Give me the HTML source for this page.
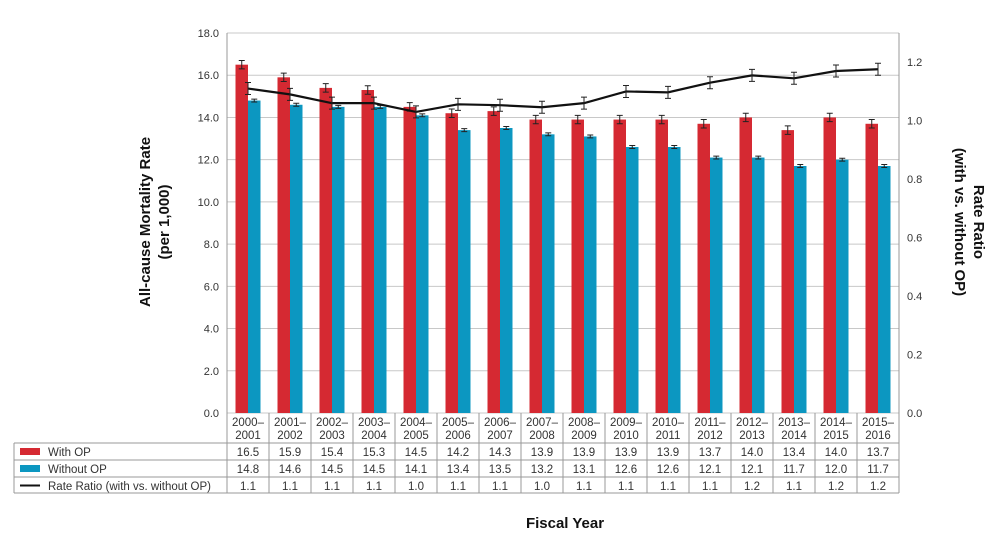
<!DOCTYPE html>
<html><head><meta charset="utf-8"><style>
body{margin:0;background:#fff;width:1000px;height:552px;overflow:hidden;font-family:"Liberation Sans",sans-serif}
svg text{font-family:"Liberation Sans",sans-serif;fill:#333}
</style></head><body>
<svg id="c" width="1000" height="552"></svg>
<script>
const categories=["2000–2001","2001–2002","2002–2003","2003–2004","2004–2005","2005–2006","2006–2007","2007–2008","2008–2009","2009–2010","2010–2011","2011–2012","2012–2013","2013–2014","2014–2015","2015–2016"];
const withOP=[16.5,15.9,15.4,15.3,14.5,14.2,14.3,13.9,13.9,13.9,13.9,13.7,14.0,13.4,14.0,13.7];
const withoutOP=[14.8,14.6,14.5,14.5,14.1,13.4,13.5,13.2,13.1,12.6,12.6,12.1,12.1,11.7,12.0,11.7];
const ratio=[1.11,1.09,1.06,1.06,1.03,1.056,1.053,1.046,1.06,1.10,1.097,1.13,1.155,1.145,1.17,1.176];
const ratioLabels=["1.1","1.1","1.1","1.1","1.0","1.1","1.1","1.0","1.1","1.1","1.1","1.1","1.2","1.1","1.2","1.2"];
const leftTicks=[0,2,4,6,8,10,12,14,16,18];
const rightTicks=[0,0.2,0.4,0.6,0.8,1.0,1.2];
const svg=document.getElementById('c');const NS='http://www.w3.org/2000/svg';
function el(t,a,txt){const e=document.createElementNS(NS,t);for(const k in a)e.setAttribute(k,a[k]);if(txt!==undefined)e.textContent=txt;svg.appendChild(e);return e;}
const X0=227,X1=899,Y0=413,Y1=33,cw=(X1-X0)/categories.length;
const yL=v=>Y0-(v/18)*(Y0-Y1);
const yR=v=>Y0-(v/1.3)*(Y0-Y1);
const xc=i=>X0+cw*(i+0.5);
leftTicks.forEach(v=>{
 let g=el('line',{x1:X0,x2:X1,y1:yL(v),y2:yL(v),stroke:'#c8c8c8','stroke-width':1});
 
 let t=el('text',{x:X0-8,y:yL(v)+4,'text-anchor':'end','font-size':11},v.toFixed(1));
 
});
rightTicks.forEach(v=>{
 let t=el('text',{x:X1+8,y:yR(v)+4,'font-size':11},v.toFixed(1));
 
});
let ax=el('line',{x1:X0,x2:X0,y1:Y1,y2:Y0,stroke:'#999'});
let ax2=el('line',{x1:X1,x2:X1,y1:Y1,y2:Y0,stroke:'#999'});
function errbar(x,y,d){
 const e=d*(Y0-Y1)/18;
 let l=el('path',{d:`M${x},${y-e}V${y+e}M${x-3},${y-e}H${x+3}M${x-3},${y+e}H${x+3}`,stroke:'#222','stroke-width':1,fill:'none'});
 
}
const bw=12.5;
categories.forEach((c,i)=>{
 const x=xc(i);
 let r=el('rect',{x:x-bw,y:yL(withOP[i]),width:bw,height:Y0-yL(withOP[i]),fill:'#d52932'});
 
 let b=el('rect',{x:x,y:yL(withoutOP[i]),width:bw,height:Y0-yL(withoutOP[i]),fill:'#0c97c1'});
 
 errbar(x-bw/2,yL(withOP[i]),0.2);errbar(x+bw/2,yL(withoutOP[i]),0.07);
});
let pts=ratio.map((v,i)=>`${xc(i)},${yR(v)}`).join(' ');
let pl=el('polyline',{points:pts,fill:'none',stroke:'#111','stroke-width':2.2});

ratio.forEach((v,i)=>{const y=yR(v),x=xc(i);
 let l=el('path',{d:`M${x},${y-6}V${y+6}M${x-3},${y-6}H${x+3}M${x-3},${y+6}H${x+3}`,stroke:'#222','stroke-width':1,fill:'none'});
 });
const TL=14,rows=[443,460,477,493];
let tb=el('path',{d:`M${X0},${Y0}V${rows[3]}M${TL},${rows[0]}H${X1}M${TL},${rows[1]}H${X1}M${TL},${rows[2]}H${X1}M${TL},${rows[3]}H${X1}M${TL},${rows[0]}V${rows[3]}M${X1},${Y0}V${rows[3]}`,stroke:'#999','stroke-width':1,fill:'none'});

categories.forEach((c,i)=>{
 if(i>0){let v=el('line',{x1:X0+cw*i,x2:X0+cw*i,y1:Y0,y2:rows[3],stroke:'#999'});}
 const p=c.split('–');
 let t1=el('text',{x:xc(i),y:426,'text-anchor':'middle','font-size':11.5},p[0]+'–');
 let t2=el('text',{x:xc(i),y:439,'text-anchor':'middle','font-size':11.5},p[1]);
 [withOP[i].toFixed(1),withoutOP[i].toFixed(1),ratioLabels[i]].forEach((s,r)=>{
  let t=el('text',{x:xc(i),y:rows[r]+13,'text-anchor':'middle','font-size':11.5},s);
  });
});
const leg=[['With OP','#d52932','rect'],['Without OP','#0c97c1','rect'],['Rate Ratio (with vs. without OP)','#111','line']];
leg.forEach((L,r)=>{const y=rows[r];
 let s=L[2]=='rect'?el('rect',{x:20,y:y+5,width:20,height:7,fill:L[1]}):el('line',{x1:20,x2:40,y1:y+8.5,y2:y+8.5,stroke:L[1],'stroke-width':2});
 
 let t=el('text',{x:48,y:y+13,'font-size':11.5},L[0]);});
let yt=el('text',{transform:'translate(150,222) rotate(-90)','text-anchor':'middle','font-size':15,'font-weight':'bold',style:'fill:#111'});

yt.innerHTML='<tspan x="0" dy="0">All-cause Mortality Rate</tspan><tspan x="0" dy="19">(per 1,000)</tspan>';
let yt2=el('text',{transform:'translate(974,222) rotate(90)','text-anchor':'middle','font-size':15,'font-weight':'bold',style:'fill:#111'});

yt2.innerHTML='<tspan x="0" dy="0">Rate Ratio</tspan><tspan x="0" dy="19">(with vs. without OP)</tspan>';
let xt=el('text',{x:565,y:528,'text-anchor':'middle','font-size':15,'font-weight':'bold',style:'fill:#111'},'Fiscal Year');

</script></body></html>
